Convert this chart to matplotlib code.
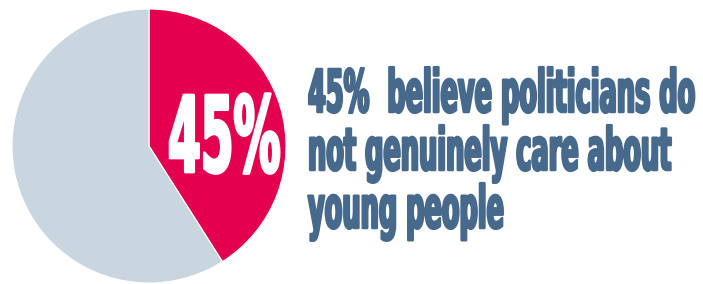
import matplotlib
matplotlib.use("Agg")
import matplotlib.pyplot as plt
from matplotlib.patheffects import AbstractPathEffect
from matplotlib.transforms import Affine2D
from matplotlib.textpath import TextPath
from matplotlib.font_manager import FontProperties

# data (slice sizes read from the drawn wedge)
shares = [41, 59]
slice_names = ["believe", "rest"]
slice_colors = ["#E2004F", "#C9D5DF"]
big_label = "45%"
caption_lines = ["45%  believe politicians do", "not genuinely care about", "young people"]

W, H = 703, 284
DPI = 100
text_color = "#46698C"
FAMILY = "DejaVu Sans"


class Tall(AbstractPathEffect):
    """stretch glyphs upward from the baseline (condensed look), fatten a bit"""

    def __init__(self, sy, lw=0.0):
        super().__init__()
        self.sy = sy
        self.lw = lw

    def draw_path(self, renderer, gc, tpath, affine, rgbFace=None):
        tr = Affine2D().scale(1.0, self.sy) + affine
        gc0 = renderer.new_gc()
        gc0.copy_properties(gc)
        if self.lw and rgbFace is not None:
            gc0.set_linewidth(self.lw)
            gc0.set_foreground(rgbFace)
            gc0.set_joinstyle("round")
        renderer.draw_path(gc0, tpath, tr, rgbFace)
        gc0.restore()


def fit(s, tall_pt, target_px):
    # font size giving the wanted ink width, and the stretch that brings
    # the glyph height back to what tall_pt would give
    fp = FontProperties(family=FAMILY, weight="bold", size=tall_pt)
    w = TextPath((0, 0), s, prop=fp).get_extents().width * DPI / 72.0
    k = target_px / w
    return tall_pt * k, 1.0 / k


fig = plt.figure(figsize=(W / DPI, H / DPI), dpi=DPI)

# pie, centre (149,146) radius 137 px
cx, cy, r = 149, 146, 137
ax = fig.add_axes([(cx - r) / W, (H - cy - r) / H, 2 * r / W, 2 * r / H])
ax.pie(shares, colors=slice_colors, startangle=90, counterclock=False,
       radius=1.0, wedgeprops=dict(edgecolor="white", linewidth=0.8))
ax.set_xlim(-1, 1)
ax.set_ylim(-1, 1)
ax.axis("off")

# overlay in pixel coords
ov = fig.add_axes([0, 0, 1, 1], zorder=5)
ov.set_xlim(0, W)
ov.set_ylim(H, 0)
ov.axis("off")

# big number inside the red slice
big_pt, big_sy = fit(big_label, 76, 109)
ov.text(168, 172, big_label, color="white", fontsize=big_pt, family=FAMILY,
        weight="bold", ha="left", va="baseline",
        path_effects=[Tall(big_sy, 2.0)])

# caption
cap_pt, cap_sy = fit(caption_lines[0], 42.5, 385)
baselines = [112, 170, 228]
for line, yb in zip(caption_lines, baselines):
    ov.text(308, yb, line, color=text_color, fontsize=cap_pt, family=FAMILY,
            weight="bold", ha="left", va="baseline",
            path_effects=[Tall(cap_sy, 1.8)])

fig.savefig("out.png", dpi=DPI)
